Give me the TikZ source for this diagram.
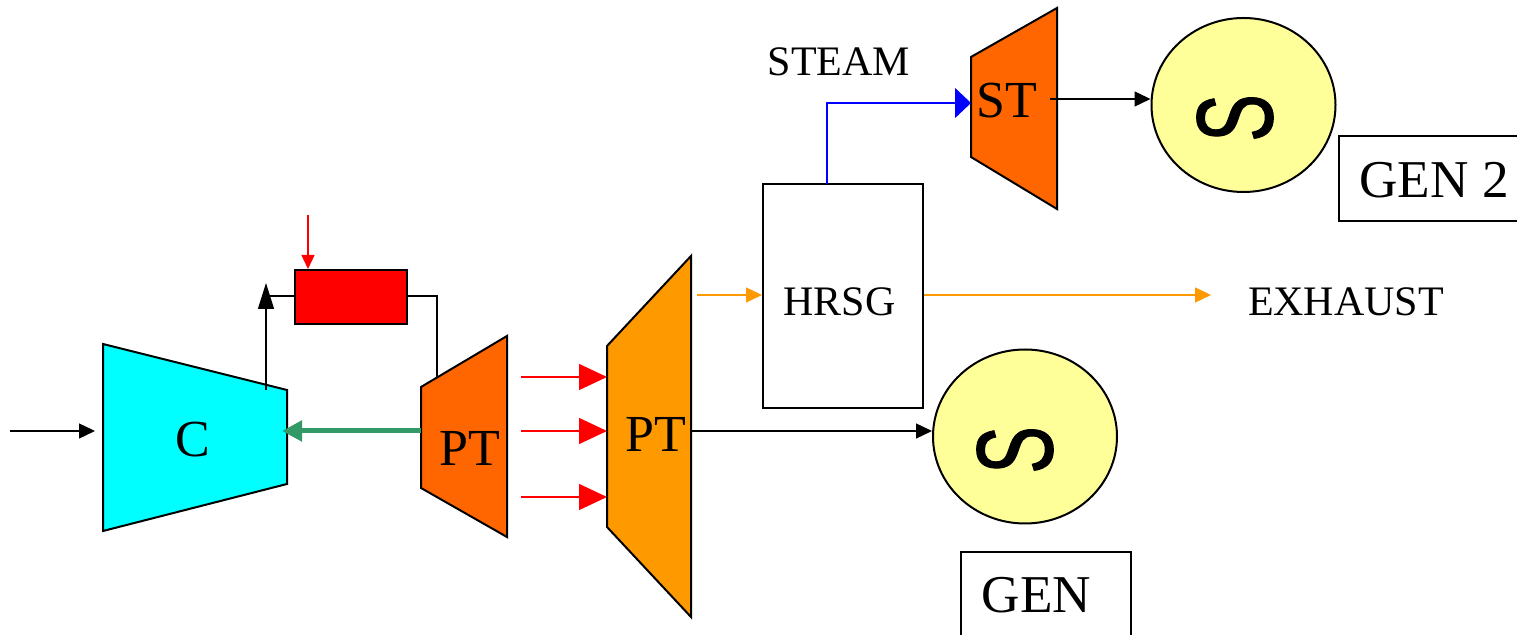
\documentclass[tikz,border=0pt]{standalone}
\usepackage{fontspec}
\setmainfont{Liberation Serif}
\newfontfamily\symfont{Liberation Sans}[FakeBold=1.2]
\usetikzlibrary{arrows.meta,shapes.geometric}
\definecolor{cCyan}{HTML}{00FFFF}
\definecolor{cOrangeD}{HTML}{FF6600}
\definecolor{cOrangeL}{HTML}{FF9900}
\definecolor{cYellow}{HTML}{FFFF99}
\definecolor{cGreen}{HTML}{339966}
\tikzset{
  x=0.5pt,y=-0.5pt,
  outline/.style={draw=black,line width=1pt,line join=miter},
  flow/.style={line width=0.7pt,-{Triangle[length=8pt,width=7.5pt]}},
  flowbig/.style={line width=0.7pt,-{Triangle[length=14pt,width=13pt]}},
  flowthin/.style={line width=0.7pt,-{Triangle[length=7pt,width=6.5pt]}},
  biglabel/.style={font=\fontsize{26}{26}\selectfont,inner sep=0pt,anchor=base},
  genlabel/.style={font=\fontsize{26.6}{27}\selectfont,inner sep=0pt,anchor=base},
  smalllabel/.style={font=\fontsize{21}{21}\selectfont,inner sep=0pt,anchor=base},
  genbody/.style={ellipse,draw=black,line width=1pt,fill=cYellow,inner sep=0pt,minimum width=92pt,minimum height=87pt},
  boxbody/.style={rectangle,draw=black,line width=1pt,inner sep=0pt,anchor=north west},
  sglyph/.style={font=\symfont\fontsize{54}{54}\selectfont,inner sep=0pt,rotate=90,xscale=0.66},
}
\begin{document}
\begin{tikzpicture}
\useasboundingbox (0,0) rectangle (1517,635);
% named anchor points
\coordinate (inStart) at (10,431);
\coordinate (cIn) at (95,431);
\coordinate (cTop) at (266,390);
\coordinate (cUp) at (266,283);
\coordinate (cMid) at (282,431);
\coordinate (pt1Left) at (421,431);
\coordinate (pt1Top) at (437,378);
\coordinate (fuel) at (308,215);
\coordinate (exEnd) at (1211,295);
\coordinate (hrsgIn0) at (697,295);
\coordinate (stOutS) at (1050,99);
% shapes
\draw[outline,fill=cCyan] (103,344) -- (287,390) -- (287,484) -- (103,531) -- cycle;
\draw[outline,fill=cOrangeD] (421,387) -- (507,336) -- (507,537) -- (421,488) -- cycle;
\draw[outline,fill=cOrangeL] (607,346) -- (691,256) -- (691,617) -- (607,527) -- cycle;
\draw[outline,fill=cOrangeD] (971,57) -- (1057,8) -- (1057,209) -- (971,157) -- cycle;
\node[boxbody,fill=red,minimum width=56pt,minimum height=27pt] (burner) at (294,269) {};
\node[boxbody,minimum width=80pt,minimum height=112pt] (hrsg) at (762,183) {};
\node[genbody] (gen2) at (1243.5,105) {};
\node[genbody] (gen1) at (1025,436.5) {};
\node[boxbody,minimum width=100pt,minimum height=42.5pt] (gen2box) at (1338,135) {};
\node[boxbody,minimum width=85pt,minimum height=43pt] (gen1box) at (960,551) {};
% labels
\node[biglabel] (cLabel) at (193,457) {C};
\node[biglabel] (pt1Label) at (470,466) {PT};
\node[biglabel] (pt2Label) at (656,452) {PT};
\node[biglabel] (stLabel) at (1007,118) {ST};
\node[smalllabel] (steam) at (839,76) {STEAM};
\node[smalllabel] (hrsgLabel) at (839.5,316) {HRSG};
\node[smalllabel] (exhaust) at (1346,316) {EXHAUST};
\node[genlabel] (gen2Label) at (1434,198) {GEN 2};
\node[genlabel] (gen1Label) at (1036.5,613) {GEN};
\node[sglyph] (s2) at (1235,118) {S};
\node[sglyph] (s1) at (1015,450) {S};
% connectors
\draw[flow] (inStart) -- (cIn);
\draw[line width=0.7pt,-{Triangle[length=13pt,width=8pt]}] (cTop) -- (cUp);
\draw[line width=0.7pt] (burner.west |- 0,296) -- (270,296);
\draw[line width=0.7pt] (burner.east |- 0,296) -- (437,296) -- (pt1Top);
\draw[red,flowthin] (fuel) -- (fuel |- burner.north);
\draw[cGreen,line width=2.5pt,-{Triangle[length=10pt,width=10pt]}] (pt1Left) -- (cMid);
\draw[red,flowbig] (521,377) -- (607,377);
\draw[red,flowbig] (521,431) -- (607,431);
\draw[red,flowbig] (521,497) -- (607,497);
\draw[flow] (691,431) -- (gen1.west |- 0,431);
\draw[cOrangeL,flow] (hrsgIn0) -- (hrsg.west |- 0,295);
\draw[cOrangeL,flow] (hrsg.east |- 0,295) -- (exEnd);
\draw[blue,line width=0.7pt,-{Triangle[length=8pt,width=15pt]}] (827,184) -- (827,103) -- (971,103);
\draw[flow] (stOutS) -- (gen2.west |- 0,99);
\end{tikzpicture}
\end{document}
